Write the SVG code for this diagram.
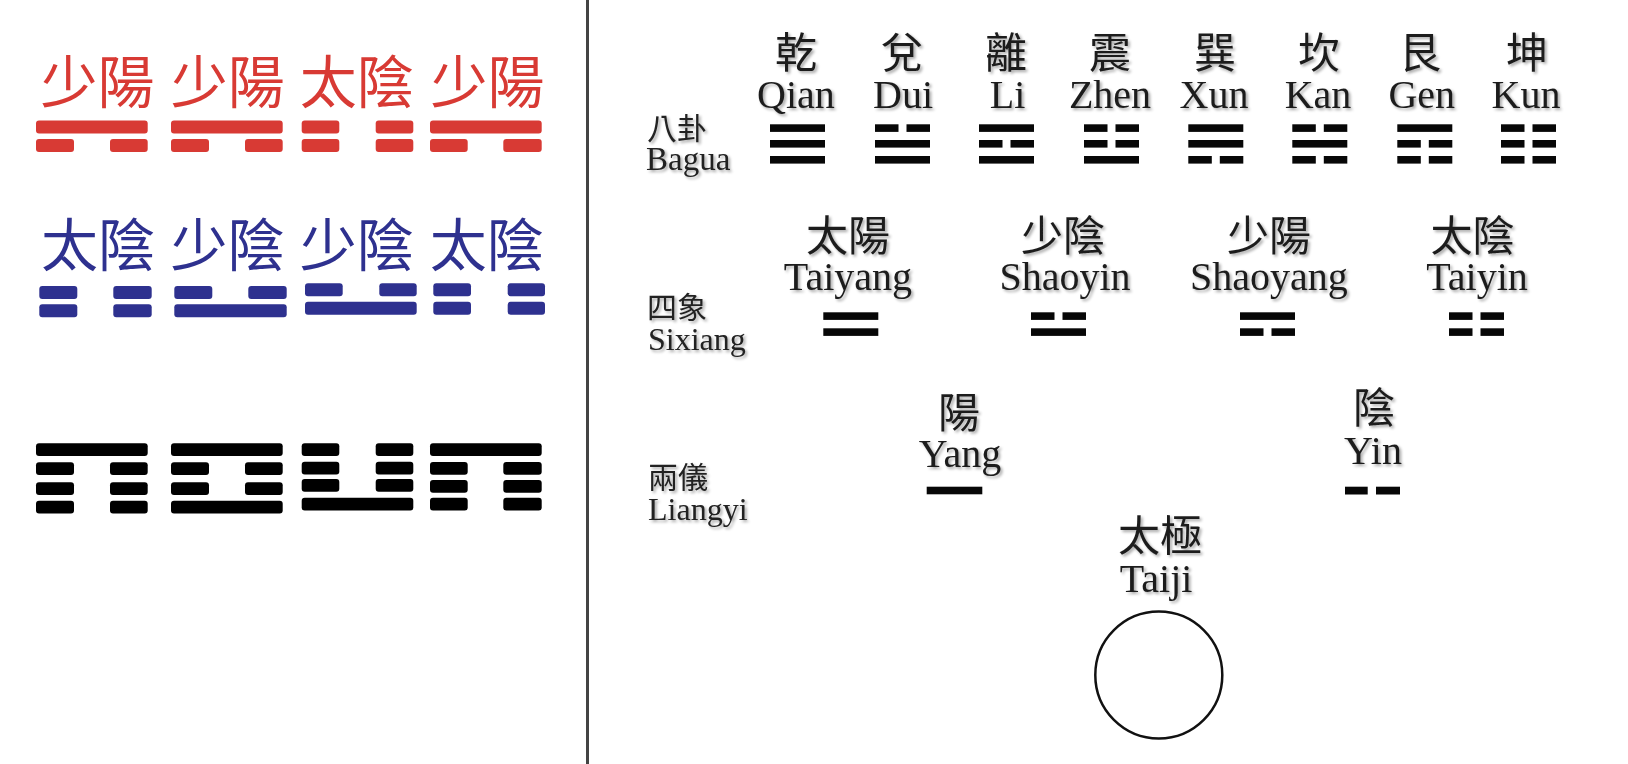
<svg xmlns="http://www.w3.org/2000/svg" width="1628" height="764" viewBox="0 0 1628 764">
<defs>
<style>
.red{fill:#d83a34}
.blue{fill:#2e318f}
.blk{fill:#000}
.tb{fill:#070707}
.big{font-family:"Noto Sans CJK TC","Noto Sans CJK SC",sans-serif;font-size:57px;text-anchor:middle}
.cj{font-family:"Liberation Serif","Noto Sans CJK TC",serif;font-size:42px;text-anchor:middle;fill:#1c1c1c;filter:url(#sh)}
.py{font-family:"Liberation Serif","Noto Sans CJK TC",serif;font-size:40px;text-anchor:middle;fill:#1c1c1c;filter:url(#sh)}
.lc{font-family:"Liberation Serif","Noto Sans CJK TC",serif;font-size:30px;fill:#222;filter:url(#sh)}
.ll{font-family:"Liberation Serif","Noto Sans CJK TC",serif;font-size:32px;fill:#222;filter:url(#sh)}
</style>
<filter id="sh" x="-20%" y="-20%" width="140%" height="140%">
<feGaussianBlur in="SourceAlpha" stdDeviation="1.8" result="b"/>
<feOffset in="b" dx="2" dy="2" result="o"/>
<feComponentTransfer in="o" result="s"><feFuncA type="linear" slope="0.35"/></feComponentTransfer>
<feMerge><feMergeNode in="s"/><feMergeNode in="SourceGraphic"/></feMerge>
</filter>
</defs>
<rect width="1628" height="764" fill="#fff"/>
<rect id="divider" x="586" y="0" width="3" height="764" fill="#444"/>

<!-- Left panel: red row -->
<g id="red-row">
<text class="big red" x="97.5" y="103">少陽</text>
<text class="big red" x="227.7" y="103">少陽</text>
<text class="big red" x="356.7" y="103">太陰</text>
<text class="big red" x="487.5" y="103">少陽</text>
<g class="red">
<rect x="36" y="120.5" width="111.7" height="13" rx="3"/>
<rect x="36" y="139" width="38" height="13" rx="3"/><rect x="110" y="139" width="37.7" height="13" rx="3"/>
<rect x="171" y="120.5" width="111.7" height="13" rx="3"/>
<rect x="171" y="139" width="38" height="13" rx="3"/><rect x="245" y="139" width="37.7" height="13" rx="3"/>
<rect x="301.7" y="120.5" width="37.6" height="13" rx="3"/><rect x="375.7" y="120.5" width="37.6" height="13" rx="3"/>
<rect x="301.7" y="139" width="37.6" height="13" rx="3"/><rect x="375.7" y="139" width="37.6" height="13" rx="3"/>
<rect x="430" y="120.5" width="111.7" height="13" rx="3"/>
<rect x="430" y="139" width="37.7" height="13" rx="3"/><rect x="503.3" y="139" width="38.4" height="13" rx="3"/>
</g>
</g>

<!-- Left panel: blue row -->
<g id="blue-row">
<text class="big blue" x="98" y="266">太陰</text>
<text class="big blue" x="227.5" y="266">少陰</text>
<text class="big blue" x="356.7" y="266">少陰</text>
<text class="big blue" x="486.7" y="266">太陰</text>
<g class="blue">
<rect x="39.3" y="286" width="38" height="13" rx="3"/><rect x="113.3" y="286" width="38.4" height="13" rx="3"/>
<rect x="39.3" y="304.3" width="38" height="13" rx="3"/><rect x="113.3" y="304.3" width="38.4" height="13" rx="3"/>
<rect x="174.3" y="286" width="38" height="13" rx="3"/><rect x="248.3" y="286" width="38.4" height="13" rx="3"/>
<rect x="174.3" y="304.3" width="112.4" height="13" rx="3"/>
<rect x="305" y="283.3" width="37.7" height="13" rx="3"/><rect x="379.3" y="283.3" width="37.4" height="13" rx="3"/>
<rect x="305" y="301.7" width="111.7" height="13" rx="3"/>
<rect x="433.3" y="283.3" width="37.7" height="13" rx="3"/><rect x="507.7" y="283.3" width="37.3" height="13" rx="3"/>
<rect x="433.3" y="301.7" width="37.7" height="13" rx="3"/><rect x="507.7" y="301.7" width="37.3" height="13" rx="3"/>
</g>
</g>

<!-- Left panel: black tetragrams -->
<g id="black-row" class="blk">
<rect x="36" y="443.3" width="111.7" height="12.8" rx="3"/>
<rect x="36" y="462.3" width="38" height="12.8" rx="3"/><rect x="110" y="462.3" width="37.7" height="12.8" rx="3"/>
<rect x="36" y="482.3" width="38" height="12.8" rx="3"/><rect x="110" y="482.3" width="37.7" height="12.8" rx="3"/>
<rect x="36" y="500.7" width="38" height="12.8" rx="3"/><rect x="110" y="500.7" width="37.7" height="12.8" rx="3"/>

<rect x="171" y="443.3" width="111.7" height="12.8" rx="3"/>
<rect x="171" y="462.3" width="38" height="12.8" rx="3"/><rect x="245" y="462.3" width="37.7" height="12.8" rx="3"/>
<rect x="171" y="482.3" width="38" height="12.8" rx="3"/><rect x="245" y="482.3" width="37.7" height="12.8" rx="3"/>
<rect x="171" y="500.7" width="111.7" height="12.8" rx="3"/>

<rect x="301.7" y="443.3" width="37.6" height="12.8" rx="3"/><rect x="375.7" y="443.3" width="37.6" height="12.8" rx="3"/>
<rect x="301.7" y="461.7" width="37.6" height="12.8" rx="3"/><rect x="375.7" y="461.7" width="37.6" height="12.8" rx="3"/>
<rect x="301.7" y="479" width="37.6" height="12.8" rx="3"/><rect x="375.7" y="479" width="37.6" height="12.8" rx="3"/>
<rect x="301.7" y="497.7" width="111.6" height="12.8" rx="3"/>

<rect x="430" y="443.3" width="111.7" height="12.8" rx="3"/>
<rect x="430" y="462" width="37.7" height="12.8" rx="3"/><rect x="503.3" y="462" width="38.4" height="12.8" rx="3"/>
<rect x="430" y="480" width="37.7" height="12.8" rx="3"/><rect x="503.3" y="480" width="38.4" height="12.8" rx="3"/>
<rect x="430" y="497.7" width="37.7" height="12.8" rx="3"/><rect x="503.3" y="497.7" width="38.4" height="12.8" rx="3"/>
</g>

<!-- Row labels -->
<g id="label-bagua"><text class="lc" x="647" y="139">八卦</text><text class="ll" x="646" y="170" style="font-size:33px">Bagua</text></g>
<g id="label-sixiang"><text class="lc" x="647" y="318">四象</text><text class="ll" x="648" y="350">Sixiang</text></g>
<g id="label-liangyi"><text class="lc" x="648" y="488">兩儀</text><text class="ll" x="648" y="520">Liangyi</text></g>

<!-- Bagua -->
<g id="qian"><text class="cj" x="796" y="68">乾</text><text class="py" x="796" y="108">Qian</text>
<g class="tb"><rect x="770" y="124.3" width="55" height="7.6"/><rect x="770" y="140" width="55" height="7.6"/><rect x="770" y="156" width="55" height="7.6"/></g></g>
<g id="dui"><text class="cj" x="902" y="68">兌</text><text class="py" x="903" y="108">Dui</text>
<g class="tb"><rect x="875" y="124.3" width="23.5" height="7.6"/><rect x="906.5" y="124.3" width="23.5" height="7.6"/><rect x="875" y="140" width="55" height="7.6"/><rect x="875" y="156" width="55" height="7.6"/></g></g>
<g id="li"><text class="cj" x="1006" y="68">離</text><text class="py" x="1007.5" y="108">Li</text>
<g class="tb"><rect x="979" y="124.3" width="55" height="7.6"/><rect x="979" y="140" width="23.5" height="7.6"/><rect x="1010.5" y="140" width="23.5" height="7.6"/><rect x="979" y="156" width="55" height="7.6"/></g></g>
<g id="zhen"><text class="cj" x="1110" y="68">震</text><text class="py" x="1110" y="108">Zhen</text>
<g class="tb"><rect x="1084" y="124.3" width="23.5" height="7.6"/><rect x="1115.5" y="124.3" width="23.5" height="7.6"/><rect x="1084" y="140" width="23.5" height="7.6"/><rect x="1115.5" y="140" width="23.5" height="7.6"/><rect x="1084" y="156" width="55" height="7.6"/></g></g>
<g id="xun"><text class="cj" x="1215" y="68">巽</text><text class="py" x="1214" y="108">Xun</text>
<g class="tb"><rect x="1188.3" y="124.3" width="55" height="7.6"/><rect x="1188.3" y="140" width="55" height="7.6"/><rect x="1188.3" y="156" width="23.5" height="7.6"/><rect x="1219.8" y="156" width="23.5" height="7.6"/></g></g>
<g id="kan"><text class="cj" x="1319" y="68">坎</text><text class="py" x="1318" y="108">Kan</text>
<g class="tb"><rect x="1292.3" y="124.3" width="23.5" height="7.6"/><rect x="1323.8" y="124.3" width="23.5" height="7.6"/><rect x="1292.3" y="140" width="55" height="7.6"/><rect x="1292.3" y="156" width="23.5" height="7.6"/><rect x="1323.8" y="156" width="23.5" height="7.6"/></g></g>
<g id="gen"><text class="cj" x="1420" y="68">艮</text><text class="py" x="1421.7" y="108">Gen</text>
<g class="tb"><rect x="1397.3" y="124.3" width="55" height="7.6"/><rect x="1397.3" y="140" width="23.5" height="7.6"/><rect x="1428.8" y="140" width="23.5" height="7.6"/><rect x="1397.3" y="156" width="23.5" height="7.6"/><rect x="1428.8" y="156" width="23.5" height="7.6"/></g></g>
<g id="kun"><text class="cj" x="1527" y="68">坤</text><text class="py" x="1526" y="108">Kun</text>
<g class="tb"><rect x="1501" y="124.3" width="23.5" height="7.6"/><rect x="1532.5" y="124.3" width="23.5" height="7.6"/><rect x="1501" y="140" width="23.5" height="7.6"/><rect x="1532.5" y="140" width="23.5" height="7.6"/><rect x="1501" y="156" width="23.5" height="7.6"/><rect x="1532.5" y="156" width="23.5" height="7.6"/></g></g>

<!-- Sixiang -->
<g id="taiyang"><text class="cj" x="848" y="251">太陽</text><text class="py" x="848" y="290">Taiyang</text>
<g class="tb"><rect x="823.3" y="312.3" width="55" height="7.6"/><rect x="823.3" y="328.3" width="55" height="7.6"/></g></g>
<g id="shaoyin"><text class="cj" x="1063" y="251">少陰</text><text class="py" x="1065" y="290">Shaoyin</text>
<g class="tb"><rect x="1031" y="312.3" width="23.5" height="7.6"/><rect x="1062.5" y="312.3" width="23.5" height="7.6"/><rect x="1031" y="328.3" width="55" height="7.6"/></g></g>
<g id="shaoyang"><text class="cj" x="1269" y="251">少陽</text><text class="py" x="1269" y="290">Shaoyang</text>
<g class="tb"><rect x="1240" y="312.3" width="55" height="7.6"/><rect x="1240" y="328.3" width="23.5" height="7.6"/><rect x="1271.5" y="328.3" width="23.5" height="7.6"/></g></g>
<g id="taiyin"><text class="cj" x="1472.5" y="251">太陰</text><text class="py" x="1477" y="290">Taiyin</text>
<g class="tb"><rect x="1449" y="312.3" width="23.5" height="7.6"/><rect x="1480.5" y="312.3" width="23.5" height="7.6"/><rect x="1449" y="328.3" width="23.5" height="7.6"/><rect x="1480.5" y="328.3" width="23.5" height="7.6"/></g></g>

<!-- Liangyi -->
<g id="yang"><text class="cj" x="959" y="428">陽</text><text class="py" x="960" y="466.5">Yang</text>
<rect class="tb" x="926.7" y="486.7" width="55.6" height="7.6"/></g>
<g id="yin"><text class="cj" x="1374" y="423">陰</text><text class="py" x="1373" y="463.5">Yin</text>
<g class="tb"><rect x="1345" y="486.7" width="22.7" height="7.8"/><rect x="1376" y="486.7" width="24" height="7.8"/></g></g>

<!-- Taiji -->
<g id="taiji"><text class="cj" x="1160" y="551">太極</text><text class="py" x="1156" y="591.5">Taiji</text>
<circle cx="1158.8" cy="675" r="63.5" fill="none" stroke="#111" stroke-width="2.5"/></g>

<g id="connectors"/>
</svg>
